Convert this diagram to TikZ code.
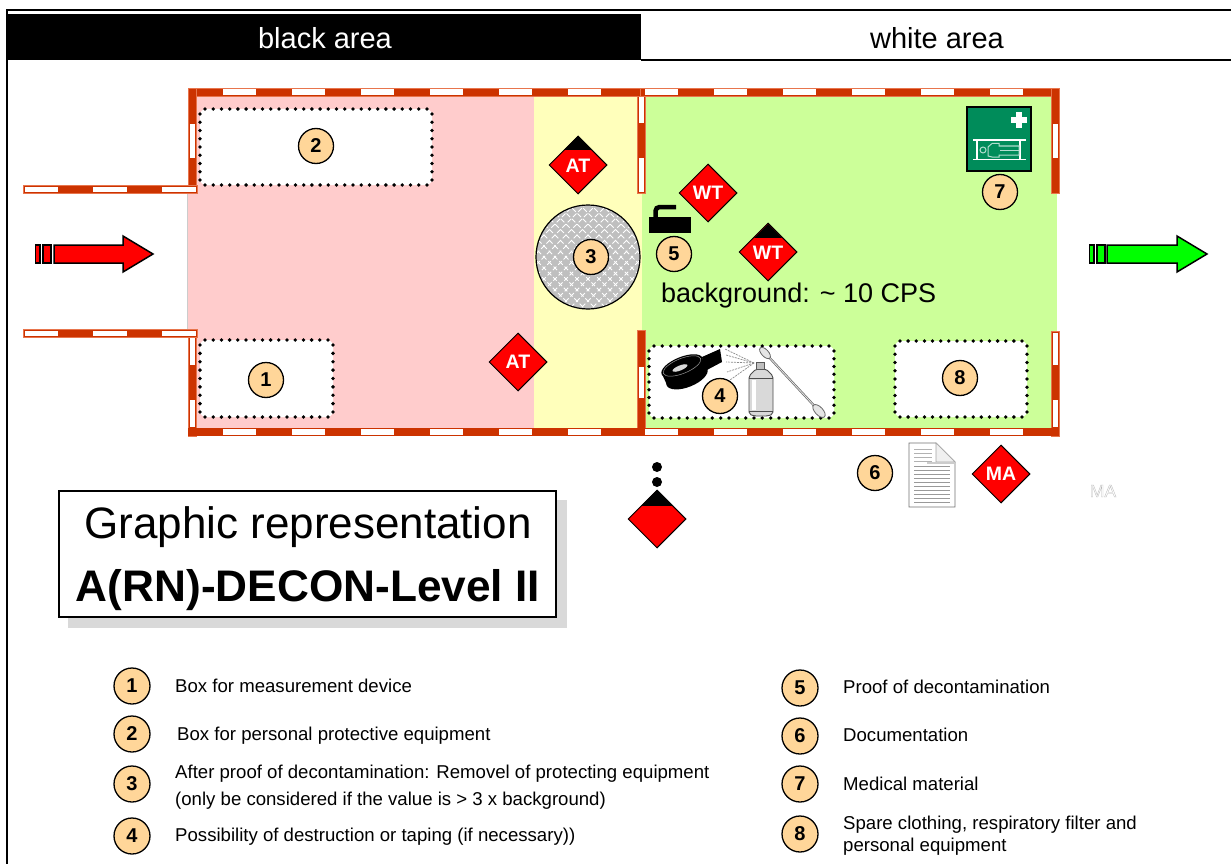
\documentclass[tikz,border=0pt]{standalone}
\usepackage{fontspec}
\setmainfont{Liberation Sans}
\usetikzlibrary{shapes.geometric,calc}
\definecolor{wallred}{HTML}{CC3300}
\definecolor{walledge}{HTML}{E8754D}
\definecolor{pinkzone}{HTML}{FFCCCC}
\definecolor{yellowzone}{HTML}{FFFFBB}
\definecolor{greenzone}{HTML}{CCFF99}
\definecolor{badgefill}{HTML}{FFD699}
\definecolor{medgreen}{HTML}{008C5A}
\newcommand{\fs}[1]{\fontsize{#1}{#1}\selectfont}
\tikzset{
  x=1pt,y=-1pt,
  wallbar/.style={fill=wallred,draw=walledge,line width=0.8pt},
  wallgap/.style={fill=white,draw=none},
  badge/.style={circle,draw=black,fill=badgefill,line width=1.3pt,inner sep=0pt,minimum size=35pt,font=\fs{20}\bfseries},
  lbadge/.style={badge,minimum size=36pt},
  legend/.style={anchor=west,inner sep=0pt,align=left,font=\fontsize{18.6}{24}\selectfont},
  sign/.style={diamond,aspect=1,draw=black,fill=red,line width=1pt,inner sep=0pt,minimum size=58pt,text=white,font=\fs{19.5}\bfseries},
  gray arrow/.style={draw=black,line width=1.5pt,line join=miter},
}
\newcommand{\hgaps}[5]{\foreach \k in {0,...,#3}{\fill[white] ({#1+69*\k},#4) rectangle ({#1+69*\k+#2},#5);}}
% dotted frame: x1 y1 x2 y2
\newcommand{\dotframe}[4]{%
  \fill[white,rounded corners=6pt] (#1,#2) rectangle (#3,#4);
  \pgfmathsetmacro{\nx}{int(round((#3-#1-10)/8.17))}%
  \pgfmathsetmacro{\ny}{int(round((#4-#2-10)/8.17))}%
  \pgfmathsetmacro{\sx}{(#3-#1-10)/\nx}%
  \pgfmathsetmacro{\sy}{(#4-#2-10)/\ny}%
  \foreach \k in {0,...,\nx}{%
    \fill[black] ({#1+5+\k*\sx},#2) circle (1.9);
    \fill[black] ({#1+5+\k*\sx},#4) circle (1.9);}%
  \foreach \k in {0,...,\ny}{%
    \fill[black] (#1,{#2+5+\k*\sy}) circle (1.9);
    \fill[black] (#3,{#2+5+\k*\sy}) circle (1.9);}%
}
\begin{document}
\begin{tikzpicture}
\useasboundingbox (0,0) rectangle (1231,864);
\fill[white] (0,0) rectangle (1231,864);
% frame and header
\fill[black] (8,14) rectangle (641,60);
\draw[black,line width=2pt] (7,864) -- (7,10.5) -- (1231,10.5);
\draw[black,line width=1.2pt] (641,60) -- (1231,60);
\node (blackarea) at (325,38) {\textcolor{white}{\fs{29}black area}};
\node (whitearea) at (937,38) {\fs{29}white area};
% zones
\fill[pinkzone] (188,92) rectangle (534,432);
\fill[yellowzone] (534,92) rectangle (642,432);
\fill[greenzone] (642,92) rectangle (1057,432);
\draw[black!20,line width=0.7pt] (187.5,190) -- (187.5,332);
% dotted boxes
\dotframe{200}{109}{432}{185}
\dotframe{200}{340}{333}{417}
\dotframe{649}{346}{834}{418}
\dotframe{895}{341}{1027}{417}
% walls
\draw[wallbar] (188,88) rectangle (640,96.5);
\hgaps{223}{33}{5}{89.5}{95}
\draw[wallbar] (640,88) rectangle (1059,96.5);
\hgaps{645}{33}{5}{89.5}{95}
\draw[wallbar] (188,88) rectangle (196,185);
\fill[wallred] (189,90) rectangle (195,110);
\fill[wallgap] (189.5,124) rectangle (194.5,158);
\draw[wallbar] (188,337) rectangle (196,436);
\fill[wallgap] (189.5,338) rectangle (194.5,365);
\fill[wallgap] (189.5,400) rectangle (194.5,427);
\draw[wallbar] (1051,88) rectangle (1059,193);
\fill[wallred] (1052,90) rectangle (1058,110);
\fill[wallgap] (1052.5,124) rectangle (1057.5,158);
\draw[wallbar] (1051,331) rectangle (1059,436);
\fill[wallgap] (1052.5,333) rectangle (1057.5,365);
\fill[wallgap] (1052.5,400) rectangle (1057.5,427);
\draw[wallbar] (637,96) rectangle (645,193);
\fill[wallgap] (638.5,97) rectangle (643.5,123);
\fill[wallgap] (638.5,158) rectangle (643.5,191.5);
\draw[wallbar] (637,330) rectangle (645,430);
\fill[wallgap] (638.5,367) rectangle (643.5,398);
\fill[wallred] (188,427.5) rectangle (1059,436);
\hgaps{223}{33}{5}{429}{434.5}
\hgaps{645}{33}{5}{429}{434.5}
% entrance walls
\draw[wallbar] (23.5,185) rectangle (197,193);
\foreach \a/\b in {25/58,93/127,162/195.5}{\fill[wallgap] (\a,186.5) rectangle (\b,191.5);}
\draw[wallbar] (23.5,329.5) rectangle (197,337.5);
\foreach \a/\b in {25/58,93/127,162/195.5}{\fill[wallgap] (\a,331) rectangle (\b,336);}
% arrows
\draw[gray arrow,fill=red] (54,245) -- (123,245) -- (123,236) -- (153,254) -- (123,272) -- (123,263) -- (54,263) -- cycle;
\draw[gray arrow,fill=red,line width=1.2pt] (35.5,245) rectangle (40,263);
\draw[gray arrow,fill=red,line width=1.2pt] (43,245) rectangle (51,263);
\draw[gray arrow,fill=green] (1107,245) -- (1177,245) -- (1177,236) -- (1207,254) -- (1177,272) -- (1177,263) -- (1107,263) -- cycle;
\draw[gray arrow,fill=green,line width=1.2pt] (1089.5,245) rectangle (1094,263);
\draw[gray arrow,fill=green,line width=1.2pt] (1097,245) rectangle (1105,263);
% decon circle
\begin{scope}
\clip (588,257) circle (52);
\fill[black!25] (588,257) circle (52);
\foreach \d in {-12,...,12}{
  \draw[white,line width=0.8pt,dash pattern=on 5pt off 2.5pt] ({588+\d*11-70},187) -- ({588+\d*11+70},327);
  \draw[white,line width=0.8pt,dash pattern=on 5pt off 2.5pt] ({588+\d*11+70},187) -- ({588+\d*11-70},327);
}
\end{scope}
\draw[black,line width=1.2pt] (588,257) circle (52);
% signs
\node[sign] (at1) at (578,165) {};
\begin{scope}\clip (549,149) rectangle (607,130); \fill[black] (578,136) -- (607,165) -- (549,165) -- cycle; \end{scope}
\node at ([yshift=-0.5pt]at1.center) {\textcolor{white}{\fs{19.5}\bfseries AT}};
\node[sign] (at2) at (518,362) {\raisebox{-0.5pt}{AT}};
\node[sign] (wt1) at (708,193) {\raisebox{-0.5pt}{WT}};
\node[sign] (wt2) at (768,252) {};
\begin{scope}\clip (739,237) rectangle (797,218); \fill[black] (768,224) -- (797,253) -- (739,253) -- cycle; \end{scope}
\node at ([yshift=-0.5pt]wt2.center) {\textcolor{white}{\fs{19.5}\bfseries WT}};
\node[sign] (ma) at (1001,474) {\raisebox{-0.5pt}{MA}};
\node[sign] (sg) at (657,519) {};
\begin{scope}\clip (628,505) rectangle (687,485); \fill[black] (657,490) -- (687,520) -- (627,520) -- cycle; \end{scope}
\fill[black] (657,467) circle (5);
\fill[black] (657,482) circle (5);
\node (ghost) at (1103,491) {\textcolor{white}{\special{pdf:code 1 Tr 0.35 w 0.72 0.72 0.72 RG}\fs{17.5}MA\special{pdf:code 0 Tr}}};
% iron-like proof icon
\fill[black] (649,217) rectangle (691,233);
\draw[black,line width=4.5pt,rounded corners=4pt] (655.5,218) -- (655.5,207) -- (676,207);
% medical sign
\draw[black,line width=1.6pt,fill=medgreen] (967,107) rectangle (1031,171);
\fill[white] (1016,112) rectangle (1022,128);
\fill[white] (1011,117) rectangle (1027,123);
\begin{scope}[white,line width=1.6pt]
\draw (973,140) -- (1026,140) (973,159.5) -- (1026,159.5);
\draw[line width=1.2pt] (977,140) -- (977,159.5) (1020,140) -- (1020,159.5);
\end{scope}
\begin{scope}[white!70!medgreen,line width=1pt]
\draw (983,150) circle (3);
\draw (988,156) -- (988,147) -- (992,143.5) -- (999,143.5) -- (999,146) -- (1019,146) -- (1019,155) -- (999,155) -- (999,157) -- (992,157) -- cycle;
\draw (1000,150.5) -- (1019,150.5);
\end{scope}
% tape
\fill[black] (702,357) -- (720,349) -- (722,362) -- (705,371) -- cycle;
\fill[black] (662,374) -- (702,358) -- (707,369) -- (667,385) -- cycle;
\fill[black,rotate around={22:(687,377)}] (687,377) ellipse (22 and 10);
\fill[black,rotate around={22:(682,366)}] (682,366) ellipse (22 and 9);
\draw[black!40,line width=0.5pt,rotate around={22:(682,366)}] (682,366) ellipse (20 and 7.5);
\fill[black!15,rotate around={22:(680,368)}] (680,368) ellipse (8 and 2.5);
% spray
\foreach \ex/\ey in {725/349,726/355,726/362,727/372,730/380}{\draw[black!45,line width=0.7pt,dash pattern=on 2pt off 1pt] (754,363) -- (\ex,\ey);}
\filldraw[draw=black!70,fill=black!15,line width=0.9pt,rounded corners=2pt] (749,414) -- (749,376) -- (756,369) -- (766,369) -- (773,376) -- (773,414) -- (768,416) -- (754,416) -- cycle;
\fill[white] (751.5,380) rectangle (755.5,410);
\draw[black!70,line width=0.7pt] (749,378) -- (773,378) (749,411) -- (773,411);
\filldraw[draw=black!65,fill=black!25,line width=0.8pt] (756,362) rectangle (764,369);
% swab
\draw[black!60,line width=2.2pt] (766,354) -- (820,412);
\draw[black!10,line width=0.8pt] (766,354) -- (820,412);
\filldraw[draw=black!60,fill=black!10,rotate around={-47:(765,353)},line width=0.8pt] (765,353) ellipse (7 and 3.5);
\filldraw[draw=black!60,fill=black!10,rotate around={-47:(819,411)},line width=0.8pt] (819,411) ellipse (8 and 4);
% document
\filldraw[draw=black!55,fill=white,line width=0.9pt] (909,443) -- (936,443) -- (955,462) -- (955,507) -- (909,507) -- cycle;
\filldraw[draw=black!35,fill=black!6,line width=0.6pt] (936,443) -- (936,462) -- (955,462) -- cycle;
\fill[black!20] (927,462) rectangle (955,464);
\foreach \y in {449,453,457,461}{\draw[black!30,line width=0.9pt] (914,\y) -- (932,\y);}
\foreach \y in {466,470,474,478,482,486,490,494,498,502}{\draw[black!40,line width=0.9pt] (914,\y) -- (950,\y);}
% badges
\node[badge] (b1) at (266,380) {1};
\node[badge] (b2) at (316,146) {2};
\node[badge] (b3) at (591,257) {3};
\node[badge] (b4) at (720,396) {4};
\node[badge] (b5) at (674,254) {5};
\node[badge] (b6) at (875,473) {6};
\node[badge] (b7) at (1000,192) {7};
\node[badge] (b8) at (960,378) {8};
\node[anchor=west,inner sep=0pt] (bg) at (661,296) {\fs{27}background: \textasciitilde{} 10 CPS};
% title
\fill[black!15] (68,500) rectangle (567,628);
\node[draw=black,fill=white,line width=1.2pt,minimum width=497pt,minimum height=126pt,inner sep=0pt] (title) at (307.5,554) {};
\node (t1) at (308,527) {\fs{44}Graphic representation};
\node (t2) at (308,590) {\fs{44.2}\bfseries A(RN)-DECON-Level II};
% legend
\node[lbadge] (l1) at (132,686) {1};
\node[lbadge] (l2) at (132,734) {2};
\node[lbadge] (l3) at (132,784) {3};
\node[lbadge] (l4) at (132,836) {4};
\node[lbadge] (l5) at (800,688) {5};
\node[lbadge] (l6) at (800,736) {6};
\node[lbadge] (l7) at (800,784) {7};
\node[lbadge] (l8) at (800,834) {8};
\node[legend] (x1) at (175,686) {Box for measurement device};
\node[legend] (x2) at (177,736) {Box for personal protective equipment};
\node[legend,font=\fontsize{18.6}{27}\selectfont] (x3) at (175,787) {After proof of decontamination: Removel of protecting equipment\\(only be considered if the value is > 3 x background)};
\node[legend] (x4) at (175,837) {Possibility of destruction or taping (if necessary))};
\node[legend] (x5) at (843,687) {Proof of decontamination};
\node[legend] (x6) at (843,735) {Documentation};
\node[legend] (x7) at (843,784) {Medical material};
\node[legend,font=\fontsize{18.6}{22}\selectfont] (x8) at (843,836) {Spare clothing, respiratory filter and\\personal equipment};
\end{tikzpicture}
\end{document}
